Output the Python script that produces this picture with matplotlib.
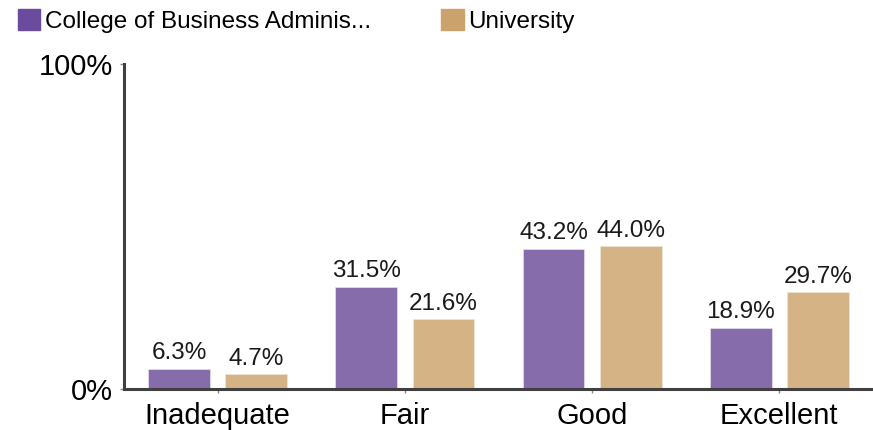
import numpy as np
import matplotlib.pyplot as plt

plt.rcParams['font.family'] = ['Liberation Sans', 'DejaVu Sans']

categories = ['Inadequate', 'Fair', 'Good', 'Excellent']
college = [6.3, 31.5, 43.2, 18.9]
university = [4.7, 21.6, 44.0, 29.7]
series_names = ['College of Business Adminis...', 'University']

bar_colors = ['#866CAA', '#D6B385']
legend_colors = ['#6B4B9D', '#CBA26C']
axis_color = '#404040'

fig = plt.figure(figsize=(8.73, 4.3), dpi=100)
ax = fig.add_axes([0.142, 0.0953, 0.858, 0.756])

x = np.arange(len(categories))
w = 0.33
off = 0.206
b1 = ax.bar(x - off, college, w, color=bar_colors[0], edgecolor='#E6E0EE', linewidth=0.5)
b2 = ax.bar(x + off, university, w, color=bar_colors[1], edgecolor='#EFE6D8', linewidth=0.5)
ax.bar_label(b1, labels=['%.1f%%' % v for v in college], padding=3, fontsize=17.5, color='#1a1a1a')
ax.bar_label(b2, labels=['%.1f%%' % v for v in university], padding=3, fontsize=17.5, color='#1a1a1a')

ax.set_xlim(-0.5, 3.5)
ax.set_ylim(0, 100)
ax.set_yticks([0, 100])
ax.set_yticklabels(['0%', '100%'], fontsize=21)
ax.set_xticks(x)
ax.set_xticklabels(categories, fontsize=21)

for s in ['top', 'right']:
    ax.spines[s].set_visible(False)
for s in ['left', 'bottom']:
    ax.spines[s].set_color(axis_color)
    ax.spines[s].set_linewidth(2.2)
ax.tick_params(axis='y', length=3, width=1, color='#888888', pad=5)
ax.tick_params(axis='x', length=3, width=1, color='#888888', pad=6, direction='out')

handles = [plt.Rectangle((0, 0), 1, 1, color=c) for c in legend_colors]
fig.legend(handles, series_names, loc='upper left', bbox_to_anchor=(0.004, 1.012),
           ncol=2, frameon=False, fontsize=17.5, handlelength=0.92, handleheight=0.92,
           handletextpad=0.18, columnspacing=2.9, borderaxespad=0.2)

fig.savefig('out.png', dpi=100)
